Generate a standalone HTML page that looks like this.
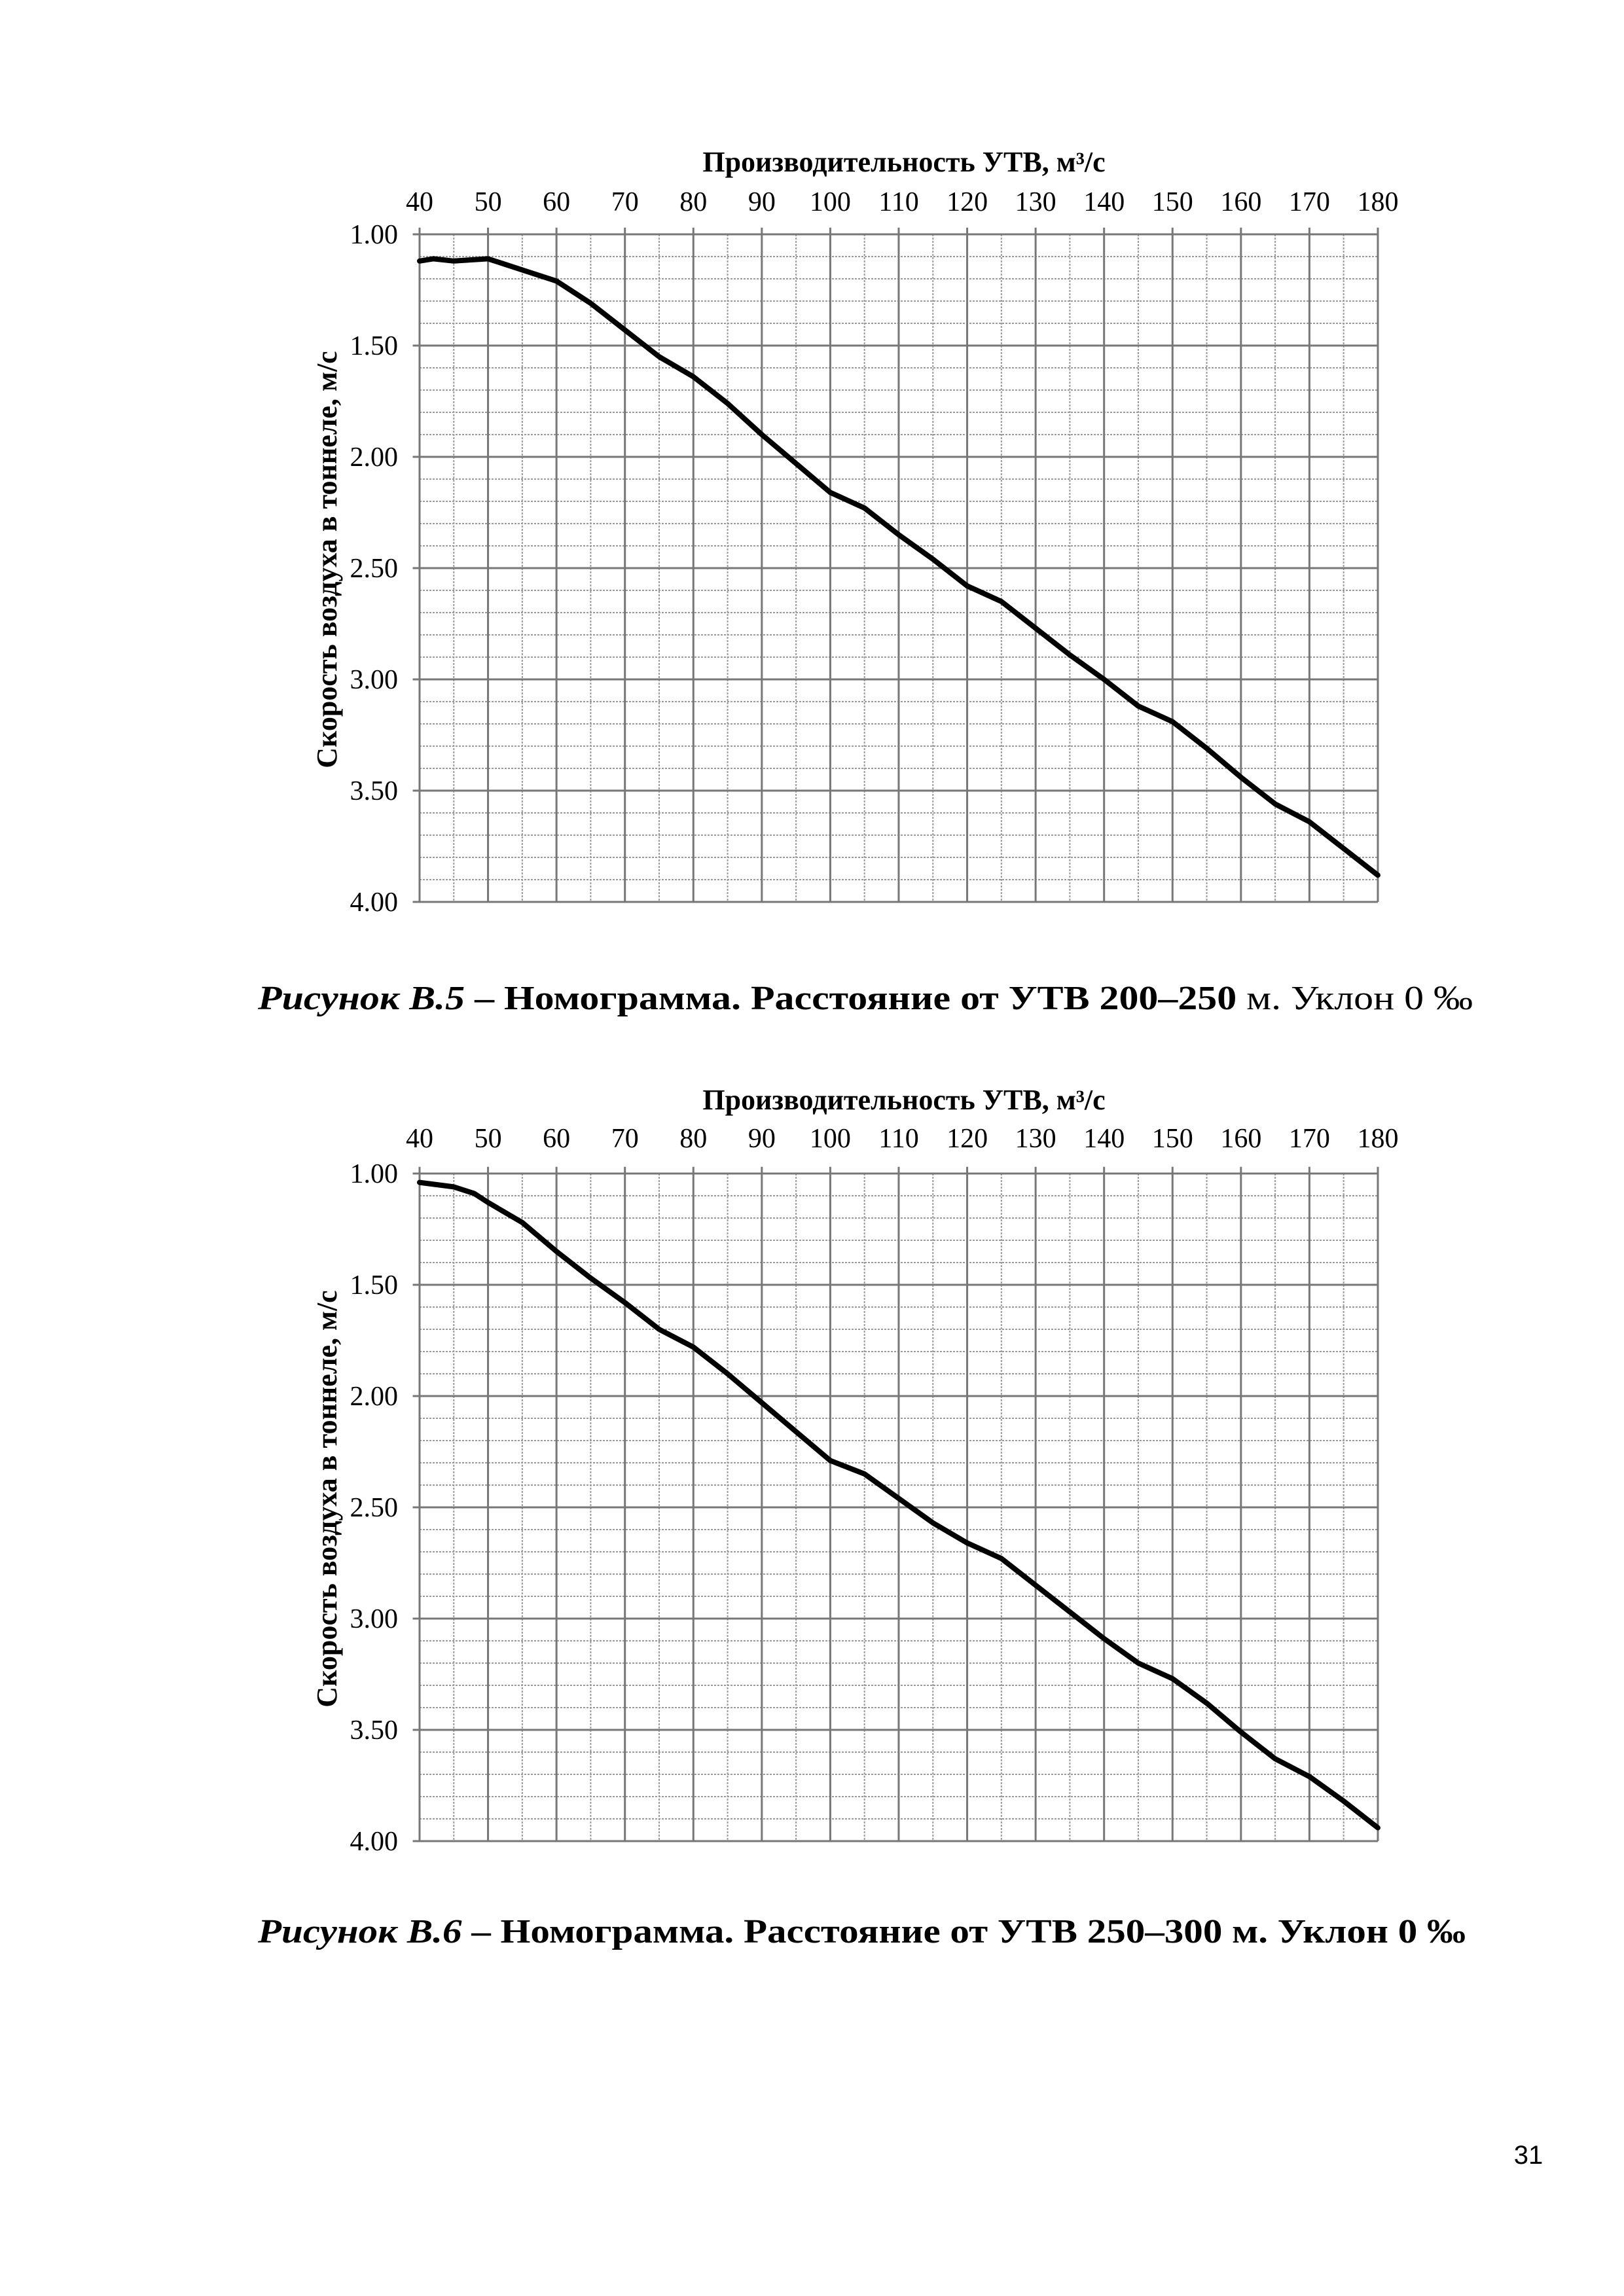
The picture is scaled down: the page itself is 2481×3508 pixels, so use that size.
<!DOCTYPE html>
<html><head><meta charset="utf-8"><style>
html,body{margin:0;padding:0;background:#fff}
svg{display:block}
</style></head><body>
<svg width="2481" height="3508" viewBox="0 0 2481 3508" xmlns="http://www.w3.org/2000/svg">
<defs>
<g id="grid">
<path vector-effect="non-scaling-stroke" fill="none" stroke="#9a9a9a" stroke-width="2" stroke-dasharray="3 2" d="M45 1V4M55 1V4M65 1V4M75 1V4M85 1V4M95 1V4M105 1V4M115 1V4M125 1V4M135 1V4M145 1V4M155 1V4M165 1V4M175 1V4M40 1.1H180M40 1.2H180M40 1.3H180M40 1.4H180M40 1.6H180M40 1.7H180M40 1.8H180M40 1.9H180M40 2.1H180M40 2.2H180M40 2.3H180M40 2.4H180M40 2.6H180M40 2.7H180M40 2.8H180M40 2.9H180M40 3.1H180M40 3.2H180M40 3.3H180M40 3.4H180M40 3.6H180M40 3.7H180M40 3.8H180M40 3.9H180"/>
<path vector-effect="non-scaling-stroke" fill="none" stroke="#777" stroke-width="3" d="M40 0.97V4M50 0.97V4M60 0.97V4M70 0.97V4M80 0.97V4M90 0.97V4M100 0.97V4M110 0.97V4M120 0.97V4M130 0.97V4M140 0.97V4M150 0.97V4M160 0.97V4M170 0.97V4M180 0.97V4M39 1H180M39 1.5H180M39 2H180M39 2.5H180M39 3H180M39 3.5H180M39 4H180"/>
</g>
</defs>
<g font-family="'Liberation Serif',serif" fill="#000">
<!-- Chart 1 -->
<g transform="translate(222.7,18) scale(10.457,340)">
<use href="#grid"/>
<path vector-effect="non-scaling-stroke" fill="none" stroke="#000" stroke-width="8" stroke-linejoin="round" stroke-linecap="round" d="M40 1.12L42 1.11L45 1.12L50 1.11L55 1.16L60 1.21L65 1.31L70 1.43L75 1.55L80 1.64L85 1.76L90 1.90L95 2.03L100 2.16L105 2.23L110 2.35L115 2.46L120 2.58L125 2.65L130 2.77L135 2.89L140 3.00L145 3.12L150 3.19L155 3.31L160 3.44L165 3.56L170 3.64L175 3.76L180 3.88"/>
</g>
<text x="1381" y="262" font-size="44" font-weight="bold" text-anchor="middle">Производительность УТВ, м³/с</text>
<g font-size="42" text-anchor="middle">
<text x="641" y="322">40</text><text x="745.6" y="322">50</text><text x="850.1" y="322">60</text><text x="954.7" y="322">70</text><text x="1059.3" y="322">80</text><text x="1163.9" y="322">90</text><text x="1268.4" y="322">100</text><text x="1373" y="322">110</text><text x="1477.6" y="322">120</text><text x="1582.1" y="322">130</text><text x="1686.7" y="322">140</text><text x="1791.3" y="322">150</text><text x="1895.9" y="322">160</text><text x="2000.4" y="322">170</text><text x="2105" y="322">180</text>
</g>
<g font-size="42" text-anchor="end">
<text x="608" y="372">1.00</text><text x="608" y="542">1.50</text><text x="608" y="712">2.00</text><text x="608" y="882">2.50</text><text x="608" y="1052">3.00</text><text x="608" y="1222">3.50</text><text x="608" y="1392">4.00</text>
</g>
<text transform="translate(514,855) rotate(-90)" font-size="44" font-weight="bold" text-anchor="middle">Скорость воздуха в тоннеле, м/с</text>
<text x="394" y="1542" font-size="52" textLength="1856" lengthAdjust="spacingAndGlyphs"><tspan font-weight="bold" font-style="italic">Рисунок В.5</tspan><tspan font-weight="bold"> – Номограмма. Расстояние от УТВ 200–250</tspan> м. Уклон 0 ‰</text>

<!-- Chart 2 -->
<g transform="translate(222.7,1453) scale(10.457,340)">
<use href="#grid"/>
<path vector-effect="non-scaling-stroke" fill="none" stroke="#000" stroke-width="8" stroke-linejoin="round" stroke-linecap="round" d="M40 1.04L45 1.06L48 1.09L50 1.13L55 1.22L60 1.35L65 1.47L70 1.58L75 1.70L80 1.78L85 1.90L90 2.03L95 2.16L100 2.29L105 2.35L110 2.46L115 2.57L120 2.66L125 2.73L130 2.85L135 2.97L140 3.09L145 3.20L150 3.27L155 3.38L160 3.51L165 3.63L170 3.71L175 3.82L180 3.94"/>
</g>
<text x="1381" y="1695" font-size="44" font-weight="bold" text-anchor="middle">Производительность УТВ, м³/с</text>
<g font-size="42" text-anchor="middle">
<text x="641" y="1753">40</text><text x="745.6" y="1753">50</text><text x="850.1" y="1753">60</text><text x="954.7" y="1753">70</text><text x="1059.3" y="1753">80</text><text x="1163.9" y="1753">90</text><text x="1268.4" y="1753">100</text><text x="1373" y="1753">110</text><text x="1477.6" y="1753">120</text><text x="1582.1" y="1753">130</text><text x="1686.7" y="1753">140</text><text x="1791.3" y="1753">150</text><text x="1895.9" y="1753">160</text><text x="2000.4" y="1753">170</text><text x="2105" y="1753">180</text>
</g>
<g font-size="42" text-anchor="end">
<text x="608" y="1807">1.00</text><text x="608" y="1977">1.50</text><text x="608" y="2147">2.00</text><text x="608" y="2317">2.50</text><text x="608" y="2487">3.00</text><text x="608" y="2657">3.50</text><text x="608" y="2827">4.00</text>
</g>
<text transform="translate(514,2290) rotate(-90)" font-size="44" font-weight="bold" text-anchor="middle">Скорость воздуха в тоннеле, м/с</text>
<text x="394" y="2968" font-size="52" font-weight="bold" textLength="1845" lengthAdjust="spacingAndGlyphs"><tspan font-style="italic">Рисунок В.6</tspan> – Номограмма. Расстояние от УТВ 250–300 м. Уклон 0 ‰</text>
</g>
<text x="2335" y="3306" font-family="'Liberation Sans',sans-serif" font-size="40" text-anchor="middle">31</text>
</svg>
</body></html>
